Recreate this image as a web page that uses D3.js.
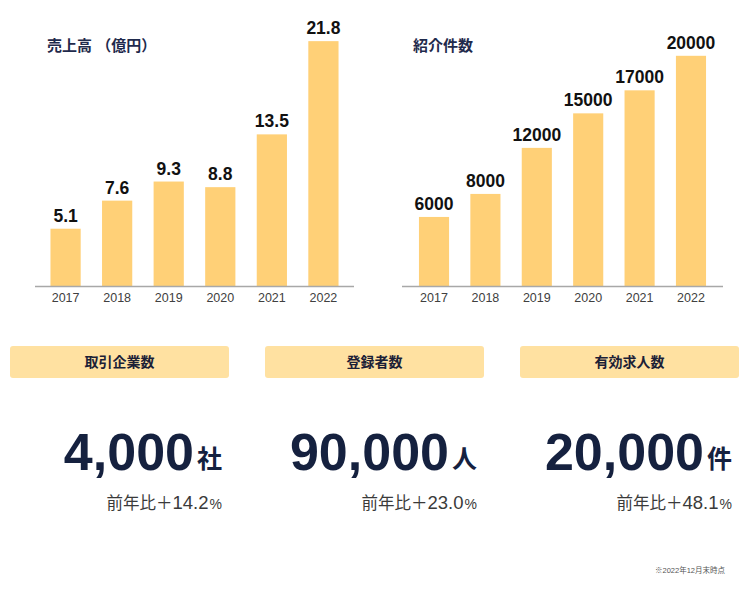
<!DOCTYPE html>
<html>
<head>
<meta charset="utf-8">
<script src="https://cdn.jsdelivr.net/npm/d3@7/dist/d3.min.js"></script>
<style>
  html, body { margin: 0; padding: 0; background: #fff; }
  svg { display: block; }
  text { font-family: "Liberation Sans", Arial, "Noto Sans CJK JP", sans-serif; }
</style>
</head>
<body>
<svg id="chart" width="752" height="590"></svg>
<script>
// ---- Data ----
const years = ["2017", "2018", "2019", "2020", "2021", "2022"];
const salesValues = [5.1, 7.6, 9.3, 8.8, 13.5, 21.8];          // 売上高（億円）
const referralValues = [6000, 8000, 12000, 15000, 17000, 20000]; // 紹介件数
const chartTitles = ["売上高 （億円）", "紹介件数"];

const statLabels = ["取引企業数", "登録者数", "有効求人数"];
const statValues = ["4,000", "90,000", "20,000"];
const statUnits = ["社", "人", "件"];
const statGrowth = ["14.2", "23.0", "48.1"];
const footnote = "※2022年12月末時点";

// ---- Styles ----
const barColor = "#FFD077";
const navy = "#15213F";
const axisColor = "#A8A8A8";
const cjk = "'Noto Sans CJK JP', 'Liberation Sans', sans-serif";
const latin = "'Liberation Sans', Arial, 'Noto Sans CJK JP', sans-serif";

const svg = d3.select("#chart");

function barChart(cfg) {
  const g = svg.append("g");
  const x = d3.scaleBand().domain(years).range([cfg.x0, cfg.x1])
    .paddingInner(0.414).paddingOuter(cfg.pOuter);
  const y = d3.scaleLinear().domain(cfg.domain).range([cfg.base, cfg.top]);

  g.append("text")
    .attr("x", cfg.titleX).attr("y", 51)
    .attr("font-family", cjk).attr("font-weight", 700)
    .attr("font-size", 15).attr("fill", "#1F2A4C")
    .text(cfg.title);

  g.selectAll("rect.bar").data(cfg.values).join("rect")
    .attr("class", "bar")
    .attr("x", (d, i) => x(years[i]))
    .attr("width", x.bandwidth())
    .attr("y", d => y(d))
    .attr("height", d => y(0) - y(d))
    .attr("fill", barColor);

  g.selectAll("text.val").data(cfg.values).join("text")
    .attr("class", "val")
    .attr("x", (d, i) => x(years[i]) + x.bandwidth() / 2)
    .attr("y", d => y(d) - 7)
    .attr("text-anchor", "middle")
    .attr("font-family", latin).attr("font-weight", 700)
    .attr("font-size", 17.5).attr("fill", "#111")
    .text(d => d);

  // axis
  const axis = d3.axisBottom(x).tickSize(0).tickPadding(7);
  const ag = g.append("g").attr("transform", `translate(0,${cfg.base})`).call(axis);
  ag.select(".domain").remove();
  ag.selectAll("text")
    .attr("font-family", latin).attr("font-size", 12.5).attr("fill", "#404040");
  g.append("line")
    .attr("x1", cfg.x0).attr("x2", cfg.x1)
    .attr("y1", cfg.base + 0.5).attr("y2", cfg.base + 0.5)
    .attr("stroke", axisColor).attr("stroke-width", 1.6);
}

barChart({ title: chartTitles[0], titleX: 47, values: salesValues,
  x0: 35, x1: 354, pOuter: 0.3, domain: [0, 22], base: 286, top: 38.9 });
barChart({ title: chartTitles[1], titleX: 413, values: referralValues,
  x0: 402, x1: 723, pOuter: 0.33, domain: [0, 20000], base: 286, top: 55.8 });

// ---- Stat panels ----
const panelX = d3.scaleBand().domain(statLabels).range([10, 739]).paddingInner(36 / 255).paddingOuter(0);

const panels = svg.selectAll("g.panel").data(statLabels).join("g").attr("class", "panel");

panels.append("rect")
  .attr("x", d => panelX(d)).attr("y", 346)
  .attr("width", panelX.bandwidth()).attr("height", 32)
  .attr("rx", 3).attr("fill", "#FFE1A1");

panels.append("text")
  .attr("x", d => panelX(d) + panelX.bandwidth() / 2).attr("y", 367)
  .attr("text-anchor", "middle")
  .attr("font-family", cjk).attr("font-weight", 700)
  .attr("font-size", 14).attr("fill", "#1B2036")
  .text(d => d);

const big = panels.append("text")
  .attr("x", d => panelX(d) + panelX.bandwidth() - 7).attr("y", 470)
  .attr("text-anchor", "end")
  .attr("fill", navy);
big.append("tspan")
  .attr("font-family", latin).attr("font-weight", 700).attr("font-size", 52)
  .text((d, i) => statValues[i]);
big.append("tspan")
  .attr("font-family", cjk).attr("font-weight", 700).attr("font-size", 25)
  .attr("dx", 3).attr("dy", -2)
  .text((d, i) => statUnits[i]);

const growth = panels.append("text")
  .attr("x", d => panelX(d) + panelX.bandwidth() - 7).attr("y", 509)
  .attr("text-anchor", "end")
  .attr("fill", "#3A3A3A");
growth.append("tspan")
  .attr("font-family", cjk).attr("font-size", 16.5)
  .text("前年比＋");
growth.append("tspan")
  .attr("font-family", latin).attr("font-size", 18.5)
  .text((d, i) => statGrowth[i]);
growth.append("tspan")
  .attr("font-family", latin).attr("font-size", 14)
  .attr("dx", 1)
  .text("%");

svg.append("text")
  .attr("x", 725).attr("y", 573)
  .attr("text-anchor", "end")
  .attr("font-family", cjk).attr("font-size", 7.5)
  .attr("fill", "#555")
  .text(footnote);
</script>
</body>
</html>
